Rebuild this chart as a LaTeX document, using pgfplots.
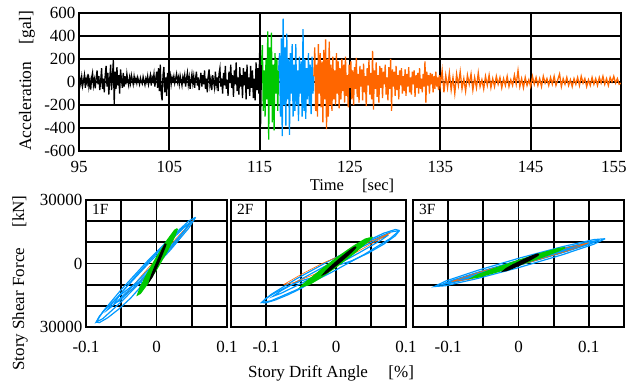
\documentclass[border=0pt]{standalone}
\usepackage{fontspec}
\setmainfont{Liberation Serif}
\usepackage{pgfplots}
\pgfplotsset{compat=1.18}
\definecolor{cgreen}{RGB}{0,200,0}
\definecolor{cblue}{RGB}{0,153,255}
\definecolor{corange}{RGB}{255,102,0}
\pgfplotsset{
  myframe/.style={
    scale only axis,
    scaled ticks=false,
    axis line style={line width=1.9pt},
    grid=both,
    major grid style={black, line width=1.8pt},
    minor grid style={black, line width=1.8pt},
    major tick length=0pt, minor tick length=0pt,
    tick label style={font=\fontsize{17bp}{19bp}\selectfont},
  }
}
\begin{document}
\begin{tikzpicture}
\useasboundingbox (0,0) rectangle (626bp,-382bp);
% ---------------- top: acceleration ----------------
\begin{axis}[myframe, at={(79bp,-13bp)}, anchor=north west,
  width=542bp, height=138bp,
  xmin=95, xmax=155, ymin=-600, ymax=600,
  xtick={95,105,115,125,135,145,155},
  xticklabels={95,105,115,125,135,145,155\hspace*{14bp}},
  xticklabel style={yshift=-7bp},
  ytick={-600,-400,-200,0,200,400,600},
  yticklabels={-600,-400,-200,0,200,400,600},
]
\addplot[black, line width=1.3pt] table[row sep=\\] {
95.0 0\\ 95.1 30\\ 95.2 -20\\ 95.3 45\\ 95.4 -35\\ 95.5 10\\ 95.6 60\\ 95.7 -50\\ 95.8 25\\ 95.9 -10\\
96.0 70\\ 96.1 -40\\ 96.2 15\\ 96.3 -65\\ 96.4 40\\ 96.5 80\\ 96.6 -30\\ 96.7 20\\ 96.8 -55\\ 96.9 35\\
97.0 100\\ 97.1 -20\\ 97.2 50\\ 97.3 -70\\ 97.4 10\\ 97.5 120\\ 97.6 -60\\ 97.7 30\\ 97.8 -90\\ 97.9 60\\
98.0 140\\ 98.1 -40\\ 98.2 80\\ 98.3 -110\\ 98.4 20\\ 98.5 150\\ 98.6 -70\\ 98.7 40\\ 98.8 190\\ 98.9 -190\\
99.0 90\\ 99.1 -60\\ 99.2 130\\ 99.3 -30\\ 99.4 60\\ 99.5 -100\\ 99.6 110\\ 99.7 20\\ 99.8 -50\\ 99.9 80\\
100.0 -40\\ 100.1 50\\ 100.2 -20\\ 100.3 70\\ 100.4 10\\ 100.5 -30\\ 100.6 40\\ 100.7 -10\\ 100.8 60\\ 100.9 20\\
101.0 -20\\ 101.1 50\\ 101.2 0\\ 101.3 30\\ 101.4 -10\\ 101.5 40\\ 101.6 10\\ 101.7 -20\\ 101.8 35\\ 101.9 5\\
102.0 -15\\ 102.1 45\\ 102.2 10\\ 102.3 -25\\ 102.4 30\\ 102.5 0\\ 102.6 50\\ 102.7 -20\\ 102.8 20\\ 102.9 60\\
103.0 -30\\ 103.1 40\\ 103.2 10\\ 103.3 70\\ 103.4 -40\\ 103.5 30\\ 103.6 90\\ 103.7 -50\\ 103.8 120\\ 103.9 -80\\
104.0 150\\ 104.1 -100\\ 104.2 -160\\ 104.3 60\\ 104.4 130\\ 104.5 -90\\ 104.6 40\\ 104.7 -120\\ 104.8 80\\ 104.9 -30\\
105.0 20\\ 105.1 60\\ 105.2 -20\\ 105.3 40\\ 105.4 10\\ 105.5 50\\ 105.6 -10\\ 105.7 30\\ 105.8 70\\ 105.9 0\\
106.0 40\\ 106.1 -20\\ 106.2 55\\ 106.3 15\\ 106.4 -30\\ 106.5 45\\ 106.6 10\\ 106.7 60\\ 106.8 -40\\ 106.9 30\\
107.0 80\\ 107.1 -20\\ 107.2 40\\ 107.3 -60\\ 107.4 20\\ 107.5 70\\ 107.6 -10\\ 107.7 50\\ 107.8 -50\\ 107.9 30\\
108.0 90\\ 108.1 -30\\ 108.2 40\\ 108.3 -70\\ 108.4 10\\ 108.5 80\\ 108.6 -40\\ 108.7 60\\ 108.8 -20\\ 108.9 100\\
109.0 -60\\ 109.1 30\\ 109.2 -90\\ 109.3 50\\ 109.4 110\\ 109.5 -30\\ 109.6 20\\ 109.7 -70\\ 109.8 60\\ 109.9 0\\
110.0 -50\\ 110.1 90\\ 110.2 -20\\ 110.3 40\\ 110.4 -80\\ 110.5 70\\ 110.6 120\\ 110.7 -40\\ 110.8 30\\ 110.9 -100\\
111.0 80\\ 111.1 -30\\ 111.2 140\\ 111.3 -60\\ 111.4 20\\ 111.5 -120\\ 111.6 90\\ 111.7 -10\\ 111.8 150\\ 111.9 -50\\
112.0 60\\ 112.1 -130\\ 112.2 100\\ 112.3 -20\\ 112.4 170\\ 112.5 -80\\ 112.6 40\\ 112.7 -110\\ 112.8 130\\ 112.9 -40\\
113.0 60\\ 113.1 -140\\ 113.2 120\\ 113.3 -30\\ 113.4 90\\ 113.5 -150\\ 113.6 150\\ 113.7 -60\\ 113.8 40\\ 113.9 -120\\
114.0 140\\ 114.1 -50\\ 114.2 100\\ 114.3 -140\\ 114.4 30\\ 114.5 -160\\ 114.6 170\\ 114.7 -70\\ 114.8 120\\ 114.9 -100\\
115.0 260\\ 115.1 -380\\ 115.2 150\\
};
\addplot[cgreen, line width=1.3pt] table[row sep=\\] {
115.2 150\\ 115.3 320\\ 115.4 -250\\ 115.5 100\\ 115.6 -300\\ 115.7 200\\ 115.8 -150\\ 115.9 440\\
116.0 -500\\ 116.1 300\\ 116.2 -200\\ 116.3 430\\ 116.4 -350\\ 116.5 150\\ 116.6 -420\\ 116.7 250\\ 116.8 -100\\ 116.9 200\\
117.0 -250\\ 117.1 100\\
};
\addplot[cblue, line width=1.3pt] table[row sep=\\] {
117.1 100\\ 117.2 250\\ 117.3 -300\\ 117.4 380\\ 117.5 -470\\ 117.6 550\\ 117.7 -200\\ 117.8 300\\ 117.9 -380\\
118.0 420\\ 118.1 -150\\ 118.2 200\\ 118.3 -460\\ 118.4 250\\ 118.5 -100\\ 118.6 330\\ 118.7 -300\\ 118.8 150\\ 118.9 -250\\
119.0 330\\ 119.1 -200\\ 119.2 100\\ 119.3 -340\\ 119.4 220\\ 119.5 -100\\ 119.6 180\\ 119.7 -300\\ 119.8 460\\ 119.9 -250\\
120.0 200\\ 120.1 -320\\ 120.2 120\\ 120.3 -150\\ 120.4 250\\ 120.5 -200\\ 120.6 150\\ 120.7 -280\\ 120.8 220\\ 120.9 -100\\
121.0 50\\
};
\addplot[corange, line width=1.3pt] table[row sep=\\] {
121.0 50\\ 121.1 300\\ 121.2 -250\\ 121.3 150\\ 121.4 -300\\ 121.5 330\\ 121.6 -100\\ 121.7 250\\ 121.8 -220\\ 121.9 180\\
122.0 -350\\ 122.1 280\\ 122.2 -150\\ 122.3 370\\ 122.4 -410\\ 122.5 200\\ 122.6 -300\\ 122.7 350\\ 122.8 -200\\ 122.9 150\\
123.0 -250\\ 123.1 220\\ 123.2 -150\\ 123.3 100\\ 123.4 -200\\ 123.5 250\\ 123.6 -100\\ 123.7 180\\ 123.8 -230\\ 123.9 120\\
124.0 -150\\ 124.1 200\\ 124.2 -80\\ 124.3 150\\ 124.4 -180\\ 124.5 220\\ 124.6 -120\\ 124.7 60\\ 124.8 -220\\ 124.9 150\\
125.0 -50\\ 125.1 180\\ 125.2 -150\\ 125.3 100\\ 125.4 -200\\ 125.5 130\\ 125.6 -60\\ 125.7 210\\ 125.8 -130\\ 125.9 70\\
126.0 -180\\ 126.1 140\\ 126.2 -40\\ 126.3 110\\ 126.4 -160\\ 126.5 160\\ 126.6 -90\\ 126.7 50\\ 126.8 -210\\ 126.9 120\\
127.0 -30\\ 127.1 190\\ 127.2 -110\\ 127.3 80\\ 127.4 -150\\ 127.5 270\\ 127.6 -240\\ 127.7 100\\ 127.8 -60\\ 127.9 170\\
128.0 -130\\ 128.1 60\\ 128.2 -180\\ 128.3 140\\ 128.4 -50\\ 128.5 120\\ 128.6 -140\\ 128.7 90\\ 128.8 -20\\ 128.9 150\\
129.0 -110\\ 129.1 40\\ 129.2 -160\\ 129.3 130\\ 129.4 -60\\ 129.5 200\\ 129.6 -250\\ 129.7 110\\ 129.8 -40\\ 129.9 90\\
130.0 -120\\ 130.1 140\\ 130.2 -70\\ 130.3 60\\ 130.4 -150\\ 130.5 100\\ 130.6 -30\\ 130.7 120\\ 130.8 -100\\ 130.9 50\\
131.0 -80\\ 131.1 110\\ 131.2 -120\\ 131.3 70\\ 131.4 -40\\ 131.5 130\\ 131.6 -90\\ 131.7 40\\ 131.8 -110\\ 131.9 90\\
132.0 -20\\ 132.1 100\\ 132.2 -130\\ 132.3 60\\ 132.4 -50\\ 132.5 80\\ 132.6 -100\\ 132.7 120\\ 132.8 -60\\ 132.9 30\\
133.0 -90\\ 133.1 70\\ 133.2 -40\\ 133.3 180\\ 133.4 -180\\ 133.5 90\\ 133.6 -30\\ 133.7 60\\ 133.8 -100\\ 133.9 80\\
134.0 -20\\ 134.1 70\\ 134.2 -90\\ 134.3 50\\ 134.4 -60\\ 134.5 90\\ 134.6 -40\\ 134.7 40\\ 134.8 -70\\ 134.9 60\\
135.0 -30\\ 135.2 100\\ 135.4 -90\\ 135.6 60\\ 135.8 -50\\ 136.0 80\\ 136.2 -70\\ 136.4 40\\ 136.6 -100\\ 136.8 70\\
137.0 -30\\ 137.2 90\\ 137.4 -60\\ 137.6 30\\ 137.8 -80\\ 138.0 60\\ 138.2 -20\\ 138.4 70\\ 138.6 -70\\ 138.8 40\\
139.0 -50\\ 139.2 80\\ 139.4 -40\\ 139.6 20\\ 139.8 -60\\ 140.0 50\\ 140.2 -30\\ 140.4 60\\ 140.6 -50\\ 140.8 30\\
141.0 -40\\ 141.2 50\\ 141.4 -20\\ 141.6 40\\ 141.8 -50\\ 142.0 30\\ 142.2 -30\\ 142.4 50\\ 142.6 -40\\ 142.8 20\\
143.0 -30\\ 143.2 60\\ 143.4 -20\\ 143.6 100\\ 143.8 -40\\ 144.0 30\\ 144.2 -50\\ 144.4 40\\ 144.6 -30\\ 144.8 20\\
145.0 -40\\ 145.2 50\\ 145.4 -20\\ 145.6 40\\ 145.8 -30\\ 146.0 30\\ 146.2 -40\\ 146.4 50\\ 146.6 -10\\ 146.8 30\\
147.0 -30\\ 147.2 40\\ 147.4 -20\\ 147.6 50\\ 147.8 -30\\ 148.0 20\\ 148.2 70\\ 148.4 -40\\ 148.6 30\\ 148.8 -20\\
149.0 40\\ 149.2 -30\\ 149.4 20\\ 149.6 -40\\ 149.8 30\\ 150.0 -20\\ 150.2 40\\ 150.4 -30\\ 150.6 50\\ 150.8 -10\\
151.0 30\\ 151.2 -40\\ 151.4 20\\ 151.6 -30\\ 151.8 40\\ 152.0 -20\\ 152.2 30\\ 152.4 -30\\ 152.6 40\\ 152.8 -10\\
153.0 50\\ 153.2 -20\\ 153.4 30\\ 153.6 -30\\ 153.8 40\\ 154.0 0\\ 154.2 50\\ 154.4 -10\\ 154.6 30\\ 154.8 -20\\
155.0 -10\\
};
\end{axis}
\node[rotate=90, font=\fontsize{17.5bp}{19bp}\selectfont] at (27bp,-81bp) {Acceleration\hspace{1em}[gal]};
\node[font=\fontsize{16.5bp}{18bp}\selectfont] at (352bp,-186bp) {Time\hspace{1.1em}[sec]};
% ---------------- panel 1F ----------------
\begin{axis}[myframe, at={(86bp,-200bp)}, anchor=north west,
  width=141bp, height=127bp,
  xmin=-0.1, xmax=0.1, ymin=-30000, ymax=30000,
  xtick={-0.1,0,0.1}, xticklabels={-0.1,0,0.1},
  xticklabel style={yshift=-11bp},
  minor xtick={-0.05,0.05},
  ytick={-30000,0,30000}, yticklabels={30000,0,30000},
  minor ytick={-20000,-10000,10000,20000},
]
\addplot[corange, line width=0.6pt] coordinates {(-0.045,-15000) (-0.01,-1500) (0.02,9000) (0.052,20500) (0.03,11000) (0,-1000) (-0.03,-11000) (-0.045,-15000)};
\addplot[cblue, line width=1.2pt] coordinates {
(0.0554,21800) (0.0460,20134) (0.0202,12283) (-0.0151,350) (-0.0503,-12467) (-0.0761,-22734) (-0.0855,-27700) (-0.0761,-26034) (-0.0503,-18183) (-0.0151,-6250) (0.0202,6567) (0.0460,16834) (0.0554,21800)};
\addplot[cblue, line width=1.2pt] coordinates {
(-0.0200,-9000) (-0.0244,-8753) (-0.0364,-11077) (-0.0528,-15350) (-0.0691,-20427) (-0.0811,-24947) (-0.0855,-27700) (-0.0811,-27947) (-0.0691,-25623) (-0.0528,-21350) (-0.0364,-16273) (-0.0244,-11753) (-0.0200,-9000)};
\addplot[cblue, line width=1.2pt] coordinates {
(0.0450,18500) (0.0380,17238) (0.0188,11290) (-0.0075,2250) (-0.0338,-7460) (-0.0530,-15238) (-0.0600,-19000) (-0.0530,-17738) (-0.0338,-11790) (-0.0075,-2750) (0.0188,6960) (0.0380,14738) (0.0450,18500)};
\addplot[cblue, line width=1.2pt] coordinates {
(0.05,20000) (0.042,17936) (0.02,10799) (-0.01,500) (-0.04,-10201) (-0.062,-18436) (-0.07,-22000) (-0.062,-19936) (-0.04,-12799) (-0.01,-2500) (0.02,8201) (0.042,16436) (0.05,20000)};
\addplot[cgreen, line width=1.4pt, fill=cgreen] coordinates {
(0.0296,16400) (0.0258,15710) (0.0155,11025) (0.0014,3600) (-0.0127,-4575) (-0.0230,-11310) (-0.0268,-14800) (-0.0230,-14110) (-0.0127,-9425) (0.0014,-2000) (0.0155,6175) (0.0258,12910) (0.0296,16400)};
\addplot[black, line width=1.8pt, fill=black] coordinates {
(0.0131,9300) (0.0117,8608) (0.0078,5918) (0.0026,1950) (-0.0027,-2232) (-0.0066,-5508) (-0.0080,-7000) (-0.0066,-6308) (-0.0027,-3618) (0.0026,350) (0.0078,4532) (0.0117,7808) (0.0131,9300)};
\node[anchor=north west, inner sep=0pt, font=\fontsize{15.5bp}{17bp}\selectfont] at (rel axis cs:0,1) [xshift=6bp, yshift=-4bp] {1F};
\end{axis}
% ---------------- panel 2F ----------------
\begin{axis}[myframe, at={(231bp,-200bp)}, anchor=north west,
  width=175bp, height=127bp,
  xmin=-0.15, xmax=0.1, ymin=-30000, ymax=30000,
  xtick={-0.1,0,0.1}, xticklabels={-0.1,0,0.1},
  xticklabel style={yshift=-11bp},
  minor xtick={-0.05,0.05},
  ytick={-30000,0,30000}, yticklabels={},
  minor ytick={-20000,-10000,10000,20000},
]
\addplot[cblue, line width=1.2pt] coordinates {
(0.0907,15600) (0.0775,14822) (0.0415,9698) (-0.0077,1600) (-0.0568,-7302) (-0.0928,-14622) (-0.1060,-18400) (-0.0928,-17622) (-0.0568,-12498) (-0.0077,-4400) (0.0415,4502) (0.0775,11822) (0.0907,15600)};
\addplot[cblue, line width=1.2pt] coordinates {
(0.0907,15600) (0.0846,16055) (0.0680,14298) (0.0454,10800) (0.0227,6498) (0.0061,2545) (0,0) (0.0061,-455) (0.0227,1302) (0.0454,4800) (0.0680,9102) (0.0846,13055) (0.0907,15600)};
\addplot[cblue, line width=1.2pt] coordinates {
(-0.030,-7000) (-0.0351,-6764) (-0.049,-8118) (-0.068,-10700) (-0.087,-13818) (-0.1009,-16636) (-0.106,-18400) (-0.1009,-18636) (-0.087,-17282) (-0.068,-14700) (-0.049,-11582) (-0.0351,-8764) (-0.030,-7000)};
\addplot[cblue, line width=1.2pt] coordinates {
(0.075,13500) (0.064,12157) (0.0338,7289) (-0.0075,200) (-0.0488,-7211) (-0.079,-12957) (-0.09,-15500) (-0.079,-14157) (-0.0488,-9289) (-0.0075,-2200) (0.0338,5211) (0.064,10957) (0.075,13500)};
\addplot[corange, line width=0.6pt] coordinates {(-0.075,-10000) (-0.05,-5200) (-0.02,0) (0.01,4200) (0.04,9000) (0.078,14500) (0.06,11000) (0.03,5500) (0,0) (-0.03,-5000) (-0.06,-9000) (-0.075,-10000)};
\addplot[cgreen, line width=1.4pt] coordinates {
(0.052,12500) (0.0452,11532) (0.0266,7689) (0.0012,2000) (-0.0242,-4011) (-0.0428,-8732) (-0.0496,-10900) (-0.0428,-9932) (-0.0242,-6089) (0.0012,-400) (0.0266,5611) (0.0452,10332) (0.052,12500)};
\addplot[cgreen, line width=1.4pt, fill=cgreen] coordinates {
(0.048,12000) (0.0418,11493) (0.0248,8107) (0.0015,2750) (-0.0218,-3143) (-0.0388,-7993) (-0.045,-10500) (-0.0388,-9993) (-0.0218,-6607) (0.0015,-1250) (0.0248,4643) (0.0418,9493) (0.048,12000)};
\addplot[black, line width=1.8pt, fill=black] coordinates {
(0.0283,7800) (0.0253,7313) (0.0171,5281) (0.0059,2250) (-0.0053,-969) (-0.0135,-3513) (-0.0165,-4700) (-0.0135,-4213) (-0.0053,-2181) (0.0059,850) (0.0171,4069) (0.0253,6613) (0.0283,7800)};
\node[anchor=north west, inner sep=0pt, font=\fontsize{15.5bp}{17bp}\selectfont] at (rel axis cs:0,1) [xshift=6bp, yshift=-4bp] {2F};
\end{axis}
% ---------------- panel 3F ----------------
\begin{axis}[myframe, at={(413bp,-200bp)}, anchor=north west,
  width=211bp, height=127bp,
  xmin=-0.15, xmax=0.15, ymin=-30000, ymax=30000,
  xtick={-0.1,0,0.1}, xticklabels={-0.1,0,0.1},
  xticklabel style={yshift=-11bp},
  minor xtick={-0.15,-0.05,0.05,0.15},
  ytick={-30000,0,30000}, yticklabels={},
  minor ytick={-20000,-10000,10000,20000},
]
\addplot[cblue, line width=1.2pt] coordinates {
(0.1232,11700) (0.1069,11286) (0.0625,7955) (0.0017,2600) (-0.0591,-3345) (-0.1035,-8286) (-0.1198,-10900) (-0.1035,-10486) (-0.0591,-7155) (0.0017,-1800) (0.0625,4145) (0.1069,9086) (0.1232,11700)};
\addplot[cblue, line width=1.2pt, fill=cblue] coordinates {
(0.115,11000) (0.0999,10193) (0.0588,6789) (0.0025,1700) (-0.0538,-3711) (-0.0949,-7993) (-0.11,-10000) (-0.0949,-9193) (-0.0538,-5789) (0.0025,-700) (0.0588,4711) (0.0999,8993) (0.115,11000)};
\addplot[corange, line width=0.6pt] coordinates {(-0.095,-8500) (-0.05,-3500) (-0.02,-1000) (0.03,3500) (0.07,7500) (0.1,9800) (0.07,6000) (0.02,1000) (-0.03,-3500) (-0.07,-7500) (-0.095,-8500)};
\addplot[cgreen, line width=1.4pt, fill=cgreen] coordinates {
(0.066,7500) (0.0572,7092) (0.033,4878) (0,1450) (-0.033,-2272) (-0.0572,-5292) (-0.066,-6800) (-0.0572,-6392) (-0.033,-4178) (0,-750) (0.033,2972) (0.0572,5992) (0.066,7500)};
\addplot[black, line width=1.8pt, fill=black] coordinates {
(0.0288,4400) (0.0255,4227) (0.0165,3056) (0.0041,1200) (-0.0083,-844) (-0.0173,-2527) (-0.0206,-3400) (-0.0173,-3227) (-0.0083,-2056) (0.0041,-200) (0.0165,1844) (0.0255,3527) (0.0288,4400)};
\node[anchor=north west, inner sep=0pt, font=\fontsize{15.5bp}{17bp}\selectfont] at (rel axis cs:0,1) [xshift=6bp, yshift=-4bp] {3F};
\end{axis}
\node[rotate=90, font=\fontsize{17bp}{19bp}\selectfont] at (20bp,-283bp) {Story Shear Force\hspace{1.2em}[kN]};
\node[font=\fontsize{17bp}{19bp}\selectfont] at (331bp,-373bp) {Story Drift Angle\hspace{1.2em}[\%]};
\end{tikzpicture}
\end{document}
